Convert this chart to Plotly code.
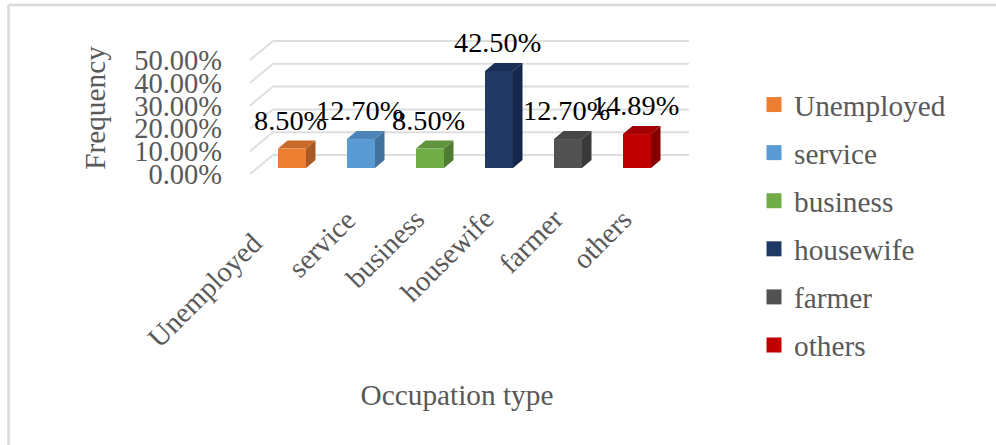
import plotly.graph_objects as go

categories = ["Unemployed", "service", "business", "housewife", "farmer", "others"]
values = [8.5, 12.7, 8.5, 42.5, 12.7, 14.89]
value_labels = ["8.50%", "12.70%", "8.50%", "42.50%", "12.70%", "14.89%"]
front_colors = ["#ED7D31", "#5B9BD5", "#70AD47", "#1F3864", "#525252", "#C00000"]
side_colors = ["#A85A24", "#41719C", "#507B33", "#15274A", "#393939", "#860000"]
top_colors = ["#C96A2A", "#4D85B8", "#5F943C", "#1A2F55", "#464646", "#A30000"]
tick_values = [0, 10, 20, 30, 40, 50]
tick_labels = ["0.00%", "10.00%", "20.00%", "30.00%", "40.00%", "50.00%"]

FONT = "Liberation Serif"
GREY = "#595959"
GRID = "#DEDEDE"
PL, PR, PT, PB = 225, 689, 10, 206
W = PR - PL
H = PB - PT
PX_X, PX_Y, X0_PX, Y0_PX = 69.0, 2.28, 292.0, 168.0
x_lo = (PL - X0_PX) / PX_X
x_hi = (PR - X0_PX) / PX_X
y_lo = (Y0_PX - PB) / PX_Y
y_hi = (Y0_PX - PT) / PX_Y
BAR_W = 28 / PX_X
DEPTH_X, DEPTH_Y = 9.5 / PX_X, 8 / PX_Y
FRONT_X, FRONT_Y = (250 - X0_PX) / PX_X, -6 / PX_Y
WALL_X, WALL_Y = (273 - X0_PX) / PX_X, 13 / PX_Y
LABEL_LIFT = 26 / PX_Y
LABEL_TOP_PAPER = (PB - 202) / H
LABEL_END_SHIFT = 2 / PX_X
FIRST_LABEL_DX, FIRST_LABEL_DY = -25 / PX_X, -24 / H

xs = list(range(len(categories)))
fig = go.Figure()

for i, (c, v) in enumerate(zip(categories, values)):
    fig.add_trace(go.Bar(x=[i], y=[v], width=BAR_W, marker=dict(color=front_colors[i], line_width=0),
                         showlegend=False, hoverinfo="skip"))
    l, r = i - BAR_W / 2, i + BAR_W / 2
    fig.add_trace(go.Scatter(x=[r, r + DEPTH_X, r + DEPTH_X, r, r], y=[0, DEPTH_Y, v + DEPTH_Y, v, 0],
                             mode="lines", fill="toself", fillcolor=side_colors[i], line=dict(width=0),
                             showlegend=False, hoverinfo="skip"))
    fig.add_trace(go.Scatter(x=[l, l + DEPTH_X, r + DEPTH_X, r, l], y=[v, v + DEPTH_Y, v + DEPTH_Y, v, v],
                             mode="lines", fill="toself", fillcolor=top_colors[i], line=dict(width=0),
                             showlegend=False, hoverinfo="skip"))
    fig.add_trace(go.Scatter(x=[None], y=[None], mode="markers", name=c, legendgroup=c,
                             marker=dict(symbol="square", size=15, color=front_colors[i]), hoverinfo="skip"))

fig.add_trace(go.Scatter(x=[i - 0.02 for i in xs], y=[v + LABEL_LIFT for v in values], mode="text",
                         text=value_labels, textposition="middle center", cliponaxis=False,
                         textfont=dict(family=FONT, size=28.3, color="#000000"), showlegend=False, hoverinfo="skip"))

annotations = []
for i, c in enumerate(categories):
    dx = FIRST_LABEL_DX if i == 0 else 0
    dy = FIRST_LABEL_DY if i == 0 else 0
    annotations.append(dict(x=i + LABEL_END_SHIFT + dx, y=LABEL_TOP_PAPER + dy, xref="x", yref="paper", text=c, textangle=-45,
                            showarrow=False, xanchor="right", yanchor="top", borderpad=0,
                            font=dict(family=FONT, size=28.5, color=GREY)))

shapes = []
for t in tick_values:
    shapes.append(dict(type="line", layer="below", xref="x", yref="y", x0=WALL_X, x1=x_hi, y0=t + WALL_Y, y1=t + WALL_Y,
                       line=dict(color=GRID, width=2)))
    shapes.append(dict(type="line", layer="below", xref="x", yref="y", x0=FRONT_X, x1=WALL_X, y0=t + FRONT_Y, y1=t + WALL_Y,
                       line=dict(color=GRID, width=2)))
shapes.append(dict(type="line", xref="paper", yref="paper", x0=(8.5 - PL) / W, x1=(8.5 - PL) / W,
                   y0=(PB - 445) / H, y1=(PB - 5) / H, line=dict(color="#D9D9D9", width=2.5)))
shapes.append(dict(type="line", xref="paper", yref="paper", x0=(8.5 - PL) / W, x1=(996 - PL) / W,
                   y0=(PB - 5) / H, y1=(PB - 5) / H, line=dict(color="#D9D9D9", width=2.5)))

fig.update_layout(
    width=996, height=445, autosize=False,
    margin=dict(l=PL, r=996 - PR, t=PT, b=445 - PB, pad=0),
    paper_bgcolor="white", plot_bgcolor="rgba(0,0,0,0)",
    font=dict(family=FONT, size=28, color=GREY),
    shapes=shapes, annotations=annotations, barmode="overlay",
    legend=dict(x=(754 - PL) / W, y=(PB - 79) / H, xanchor="left", yanchor="top", maxheight=330,
                font=dict(family=FONT, size=29.3, color=GREY), tracegroupgap=7, itemclick=False,
                bgcolor="rgba(0,0,0,0)", traceorder="grouped"),
    xaxis=dict(range=[x_lo, x_hi], showticklabels=False, showgrid=False, zeroline=False, showline=False, ticks="",
               title=dict(text="Occupation type", font=dict(family=FONT, size=29.3, color=GREY), standoff=178), automargin=False),
    yaxis=dict(range=[y_lo, y_hi], tickmode="array", tickvals=[t + FRONT_Y for t in tick_values], ticktext=tick_labels,
               showgrid=False, zeroline=False, showline=False, ticks="", ticklabelstandoff=2,
               tickfont=dict(family=FONT, size=28.5, color=GREY),
               title=dict(text="Frequency", font=dict(family=FONT, size=29.3, color=GREY), standoff=19), automargin=False),
)

fig.write_html("out.html", config=dict(displayModeBar=False),
               post_script="document.body.style.margin='0';document.body.style.overflow='hidden';")
